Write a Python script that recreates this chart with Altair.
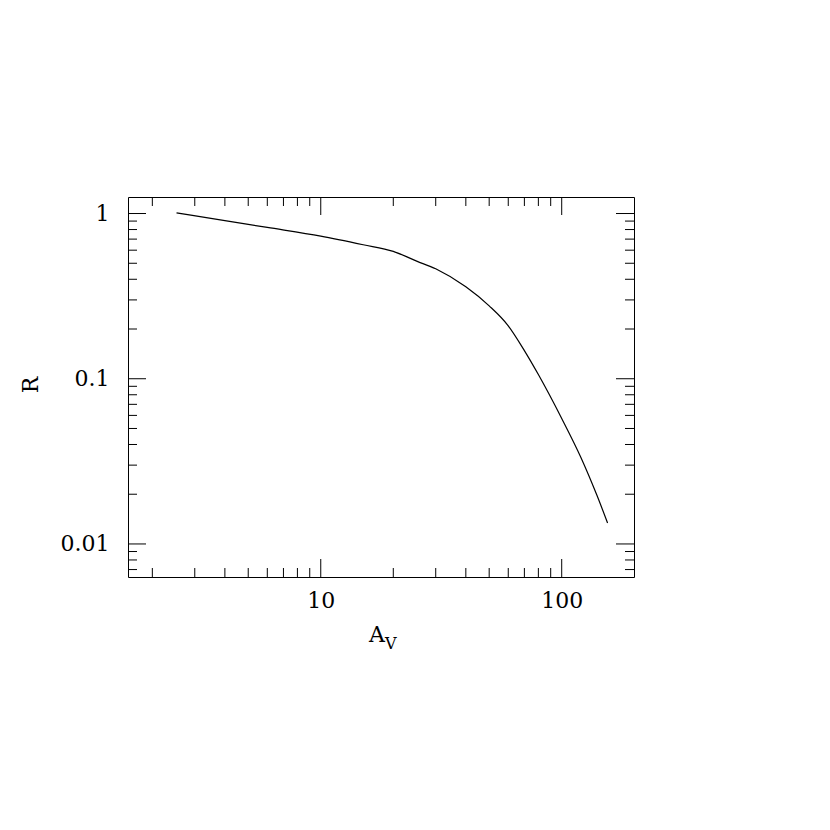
import altair as alt
import pandas as pd

# Curve values (log-log)
av = [2.52, 4, 6, 10, 15, 20, 25, 30, 40, 50, 60, 70, 80, 100, 120, 140, 155]
r = [1.01, 0.906, 0.824, 0.73, 0.647, 0.59, 0.515, 0.463, 0.36, 0.276, 0.209,
     0.148, 0.106, 0.0575, 0.0335, 0.0197, 0.0134]

x_major = [10, 100]
x_minor = [2, 3, 4, 5, 6, 7, 8, 9, 20, 30, 40, 50, 60, 70, 80, 90]
y_major = [0.01, 0.1, 1]
y_minor = [0.007, 0.008, 0.009,
           0.02, 0.03, 0.04, 0.05, 0.06, 0.07, 0.08, 0.09,
           0.2, 0.3, 0.4, 0.5, 0.6, 0.7, 0.8, 0.9]

W, H = 506, 380
XD = [10 ** 0.2, 10 ** 2.3]
YD = [10 ** -2.2, 10 ** 0.1]
FONT = "DejaVu Serif"

xs = alt.Scale(type="log", domain=XD, nice=False)
ys = alt.Scale(type="log", domain=YD, nice=False)

common_axis = dict(ticks=False, domain=False, grid=False, title=None,
                   labelFont=FONT, labelFontSize=22, labelColor="black",
                   format="~g", labelFlush=False)
x_axis = alt.Axis(values=x_major, labelPadding=13, **common_axis)
y_axis = alt.Axis(values=y_major, labelPadding=19, **common_axis)

curve = pd.DataFrame({"av": av, "r": r})
line = alt.Chart(curve).mark_line(color="black", strokeWidth=1.2,
                                  interpolate="monotone").encode(
    x=alt.X("av:Q", scale=xs, axis=x_axis),
    y=alt.Y("r:Q", scale=ys, axis=y_axis),
)


def xticks(vals, length):
    df = pd.DataFrame({"av": vals})
    base = alt.Chart(df).mark_rule(color="black", strokeWidth=1)
    enc = alt.X("av:Q", scale=xs, axis=x_axis)
    bottom = base.encode(x=enc, y=alt.value(H), y2=alt.value(H - length))
    top = base.encode(x=enc, y=alt.value(0), y2=alt.value(length))
    return [bottom, top]


def yticks(vals, length):
    df = pd.DataFrame({"r": vals})
    base = alt.Chart(df).mark_rule(color="black", strokeWidth=1)
    enc = alt.Y("r:Q", scale=ys, axis=y_axis)
    left = base.encode(y=enc, x=alt.value(0), x2=alt.value(length))
    right = base.encode(y=enc, x=alt.value(W), x2=alt.value(W - length))
    return [left, right]


ticks = xticks(x_major, 18) + xticks(x_minor, 9) + yticks(y_major, 18) + yticks(y_minor, 9)

a_txt = alt.Chart(pd.DataFrame({"t": ["A"]})).mark_text(
    font=FONT, fontSize=22, align="left", baseline="alphabetic", color="black"
).encode(x=alt.value(241), y=alt.value(444.7), text="t:N")
v_txt = alt.Chart(pd.DataFrame({"t": ["V"]})).mark_text(
    font=FONT, fontSize=16, align="left", baseline="alphabetic", color="black"
).encode(x=alt.value(257), y=alt.value(452), text="t:N")
r_txt = alt.Chart(pd.DataFrame({"t": ["R"]})).mark_text(
    font=FONT, fontSize=22, align="center", baseline="middle", angle=270, color="black"
).encode(x=alt.value(-97), y=alt.value(188), text="t:N")

chart = alt.layer(line, *ticks, a_txt, v_txt, r_txt).properties(
    width=W, height=H,
    autosize=alt.AutoSizeParams(type="none"),
    padding={"left": 120, "top": 189, "right": 180, "bottom": 240},
    background="white",
).configure_view(stroke="black", strokeWidth=1)

chart.save("out.html", embed_options={"renderer": "svg", "actions": False})
